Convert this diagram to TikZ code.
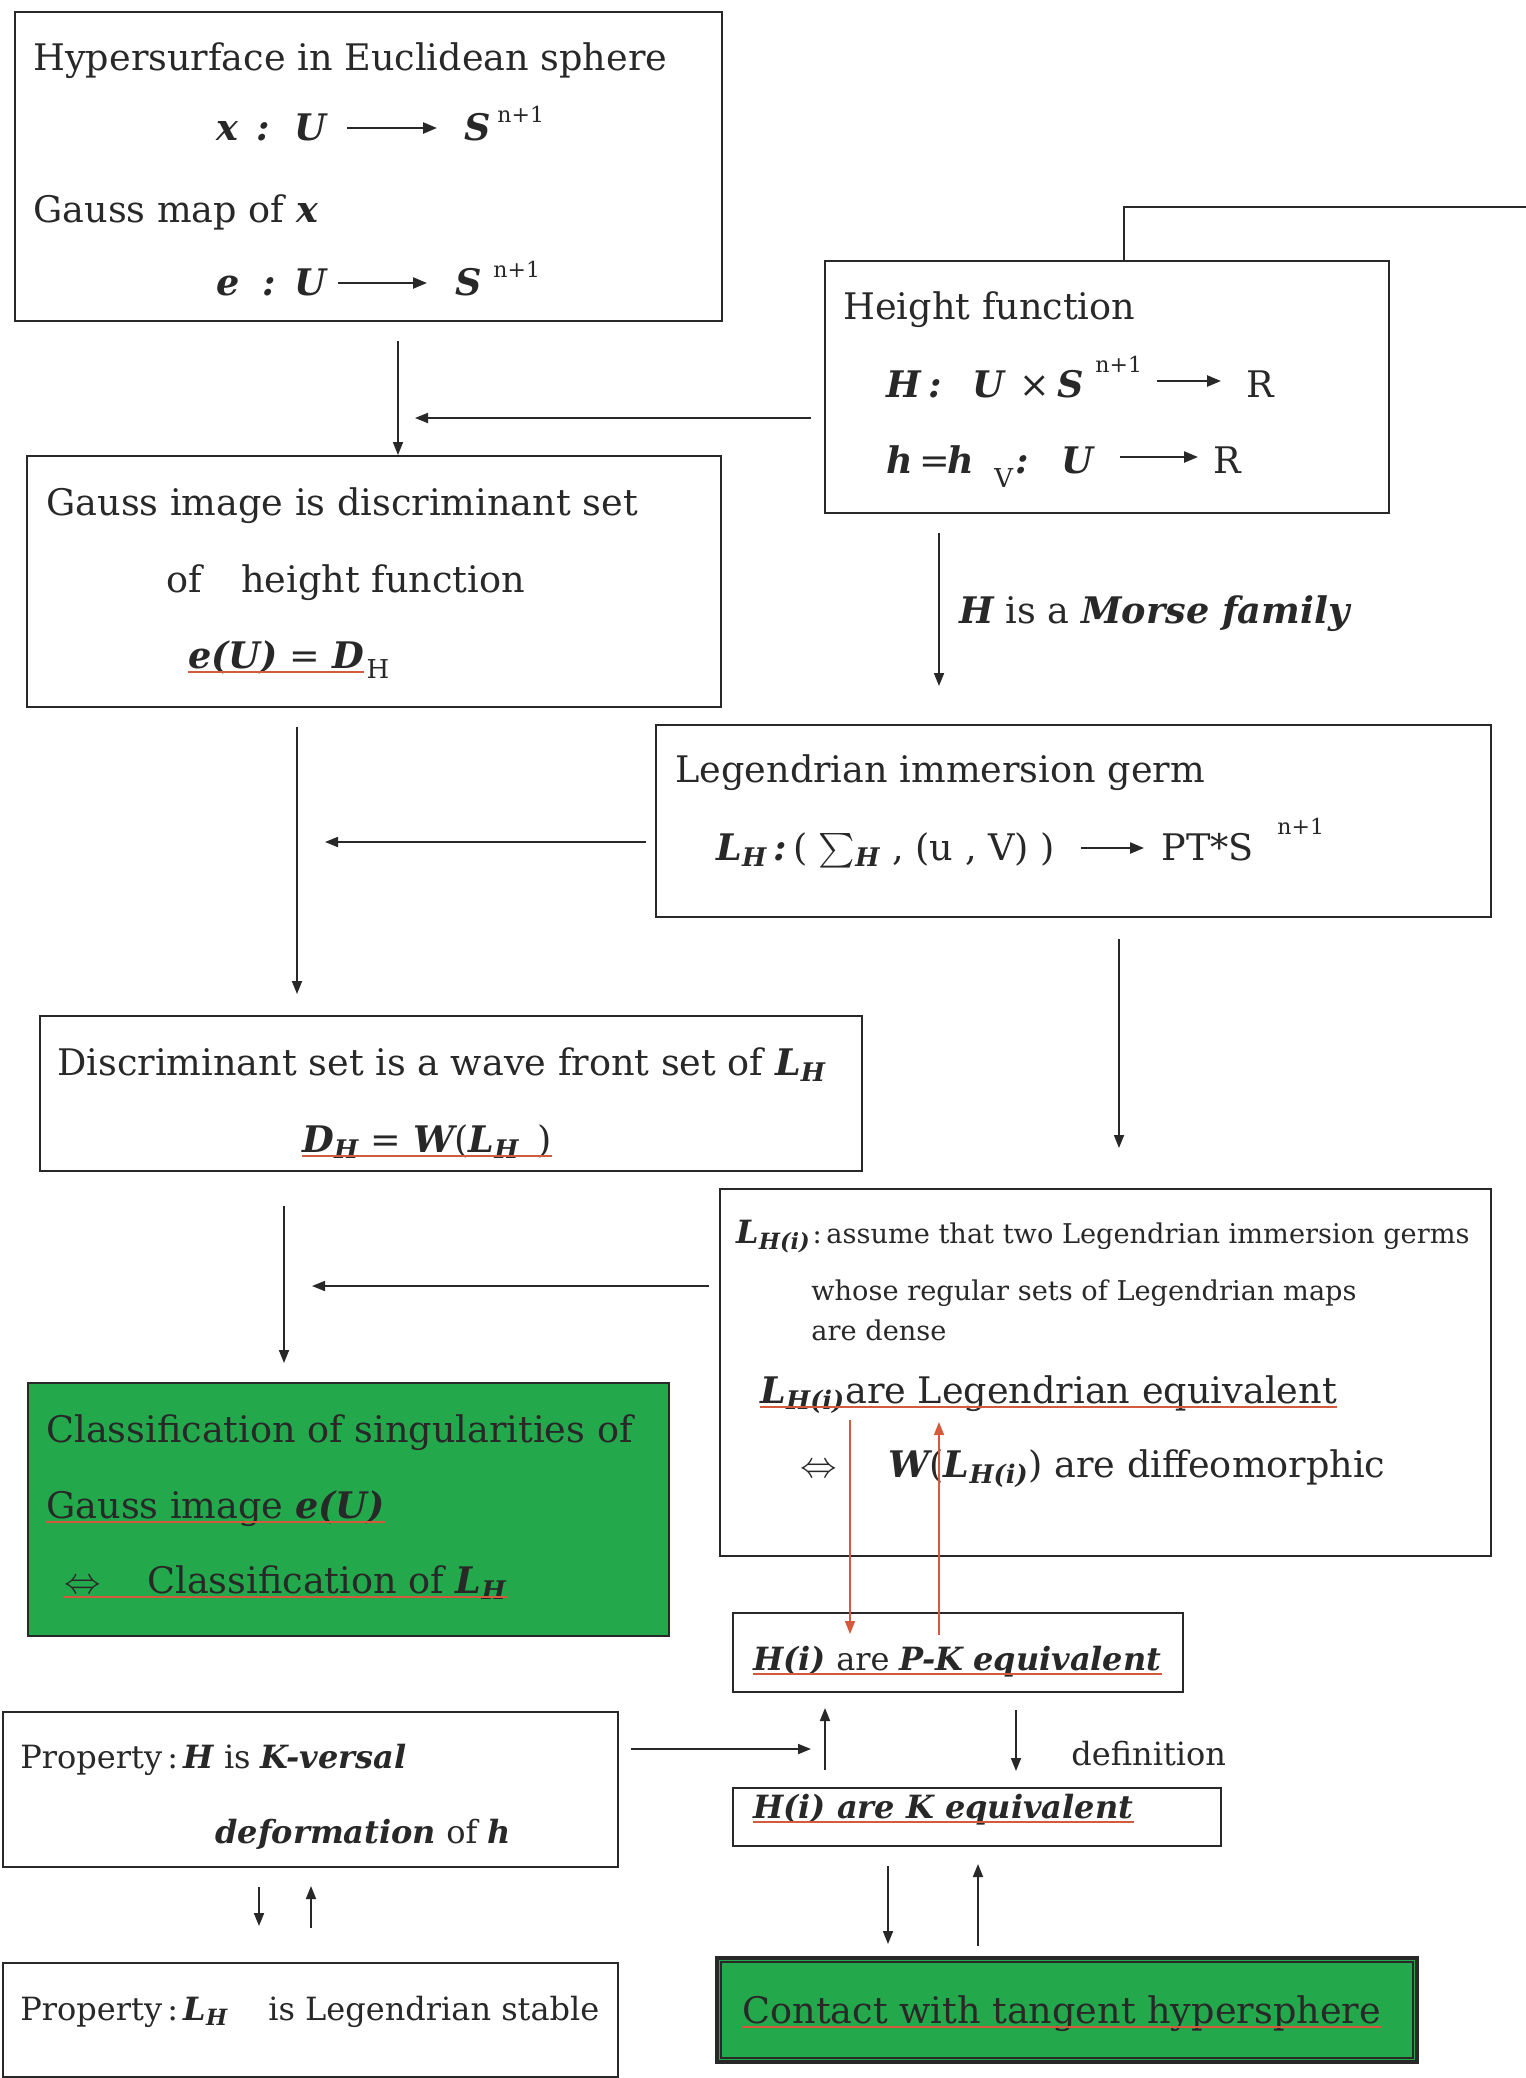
\RequirePackage{fix-cm}
\documentclass[tikz,border=0pt]{standalone}
\usepackage{amsmath}
\usepackage{graphicx}
\usepackage{fontspec}
\setmainfont{DejaVu Serif}
\usetikzlibrary{arrows.meta,fit}
\definecolor{ink}{RGB}{40,40,40}
\definecolor{boxgreen}{RGB}{36,168,76}
\definecolor{redline}{RGB}{212,90,62}
\newcommand{\bi}[1]{{\bfseries\itshape #1}}
\newcommand{\supfont}{\fontsize{11}{13}\selectfont}
\begin{document}
\begin{tikzpicture}[x=0.5pt,y=-0.5pt,
  box/.style={draw=ink, line width=1.3pt, inner sep=0pt},
  gbox/.style={box, fill=boxgreen},
  txt/.style={anchor=base west, inner sep=0pt, text=ink, font=\fontsize{18.3}{22}\selectfont},
  midtxt/.style={txt, font=\fontsize{16}{19}\selectfont},
  subtxt/.style={txt, font=\fontsize{13}{15}\selectfont},
  smalltxt/.style={txt, font=\fontsize{13.6}{16}\selectfont},
  suptxt/.style={txt, font=\supfont},
  arr/.style={draw=ink, line width=0.9pt, -{Triangle[length=6.5pt,width=5pt]}},
  marr/.style={draw=ink, line width=1.2pt, -{Triangle[length=7pt,width=5.5pt]}},
  rarr/.style={draw=redline, line width=0.8pt, -{Triangle[length=6.5pt,width=5pt]}},
  uline/.style={draw=redline, line width=0.6pt},
]
\useasboundingbox[fill=white] (0,0) rectangle (1526,2078);

% ---------- boxes ----------
\path (15,12) coordinate (A1c) (722,321) coordinate (A2c);
\node[box, fit=(A1c)(A2c)] (A) {};
\path (825,261) coordinate (B1c) (1389,513) coordinate (B2c);
\node[box, fit=(B1c)(B2c)] (B) {};
\path (27,456) coordinate (C1c) (721,707) coordinate (C2c);
\node[box, fit=(C1c)(C2c)] (C) {};
\path (656,725) coordinate (D1c) (1491,917) coordinate (D2c);
\node[box, fit=(D1c)(D2c)] (D) {};
\path (40,1016) coordinate (E1c) (862,1171) coordinate (E2c);
\node[box, fit=(E1c)(E2c)] (E) {};
\path (720,1189) coordinate (F1c) (1491,1556) coordinate (F2c);
\node[box, fit=(F1c)(F2c)] (F) {};
\path (28,1383) coordinate (G1c) (669,1636) coordinate (G2c);
\node[gbox, fit=(G1c)(G2c)] (G) {};
\path (733,1613) coordinate (H1c) (1183,1692) coordinate (H2c);
\node[box, fit=(H1c)(H2c)] (H) {};
\path (733,1788) coordinate (I1c) (1221,1846) coordinate (I2c);
\node[box, fit=(I1c)(I2c)] (I) {};
\path (717,1958) coordinate (J1c) (1417,2062) coordinate (J2c);
\node[gbox, line width=1.6pt, fit=(J1c)(J2c)] (J) {};
\draw[ink, line width=1pt] ([shift={(6,6)}]J.north west) rectangle ([shift={(-6,-6)}]J.south east);
\path (3,1712) coordinate (K1c) (618,1867) coordinate (K2c);
\node[box, fit=(K1c)(K2c)] (K) {};
\path (3,1963) coordinate (L1c) (618,2077) coordinate (L2c);
\node[box, fit=(L1c)(L2c)] (L) {};

% ---------- box A ----------
\node[txt] (a1) at (33,70) {Hypersurface in Euclidean sphere};
\node[txt] (a2x) at (216,140) {\bi{x}};
\node[txt] (a2c) at (256,140) {\bi{:}};
\node[txt] (a2U) at (294,140) {\bi{U}};
\node[txt] (a2S) at (464,140) {\bi{S}};
\node[suptxt] (a2n) at (497,122) {n+1};
\coordinate (a2arr1) at (347,128); \coordinate (a2arr2) at (437,128);
\draw[marr] (a2arr1) -- (a2arr2);
\node[txt] (a3) at (33,222) {Gauss map of \bi{x}};
\node[txt] (a4e) at (216,295) {\bi{e}};
\node[txt] (a4c) at (262,295) {\bi{:}};
\node[txt] (a4U) at (294,295) {\bi{U}};
\node[txt] (a4S) at (455,295) {\bi{S}};
\node[suptxt] (a4n) at (493,277) {n+1};
\coordinate (a4arr1) at (338,283); \coordinate (a4arr2) at (427,283);
\draw[marr] (a4arr1) -- (a4arr2);

% ---------- box B ----------
\node[txt] (b1) at (843,319) {Height function};
\node[txt] (b2H) at (886,397) {\bi{H}};
\node[txt] (b2c) at (928,397) {\bi{:}};
\node[txt] (b2U) at (972,397) {\bi{U}};
\node[txt] (b2x) at (1019,397) {×};
\node[txt] (b2S) at (1057,397) {\bi{S}};
\node[suptxt] (b2n) at (1095,372) {n+1};
\node[txt] (b2R) at (1246,397) {R};
\coordinate (b2arr1) at (1157,381); \coordinate (b2arr2) at (1221,381);
\draw[marr] (b2arr1) -- (b2arr2);
\node[txt] (b3h) at (886,473) {\bi{h}};
\node[txt] (b3eq) at (919,473) {=};
\node[txt] (b3h2) at (947,473) {\bi{h}};
\node[subtxt] (b3V) at (994,487) {V};
\node[txt] (b3c) at (1015,473) {\bi{:}};
\node[txt] (b3U) at (1061,473) {\bi{U}};
\node[txt] (b3R) at (1213,473) {R};
\coordinate (b3arr1) at (1120,457); \coordinate (b3arr2) at (1198,457);
\draw[marr] (b3arr1) -- (b3arr2);

% ---------- box C ----------
\node[txt] (c1) at (46,515) {Gauss image is discriminant set};
\node[txt] (c2a) at (166,592) {of};
\node[txt] (c2b) at (241,592) {height function};
\node[txt] (c3) at (188,668) {\bi{e(U)} = \bi{D}};
\node[subtxt] (c3H) at ([xshift=1pt,yshift=-5pt]c3.base east) {H};
\draw[uline] ([yshift=-2pt]c3.base west) -- ([yshift=-2pt]c3.base east);

\node[txt] (morse) at (959,623) {\bi{H} is a \bi{Morse family}};

% ---------- box D ----------
\node[txt] (d1) at (675,782) {Legendrian immersion germ};
\node[txt] (d2a) at (716,860) {\bi{L}\textsubscript{\bi{H}}\,\bi{:}\,( $\sum$\textsubscript{\bi{H}} , (u , V) )};
\node[txt] (d2b) at (1161,860) {PT*S};
\node[suptxt] (d2n) at (1277,834) {n+1};
\coordinate (d2arr1) at (1081,848); \coordinate (d2arr2) at (1144,848);
\draw[marr] (d2arr1) -- (d2arr2);

% ---------- box E ----------
\node[txt] (e1) at (57,1075) {Discriminant set is a wave front set of \bi{L}\textsubscript{\bi{H}}};
\node[txt] (e2) at (302,1152) {\bi{D}\textsubscript{\bi{H}} = \bi{W}(\bi{L}\textsubscript{\bi{H}}\ \,)};
\draw[uline] ([yshift=-2pt]e2.base west) -- ([yshift=-2pt]e2.base east);

% ---------- box F ----------
\node[midtxt] (f1a) at (736,1243) {\bi{L}\textsubscript{\bi{H(i)}}};
\node[smalltxt] (f1c) at ([xshift=0.5pt]f1a.base east) {:};
\node[smalltxt] (f1b) at (826,1243) {assume that two Legendrian immersion germs};
\node[smalltxt] (f2) at (811,1300) {whose regular sets of Legendrian maps};
\node[smalltxt] (f3) at (811,1340) {are dense};
\node[txt] (f4) at (760,1403) {\bi{L}\textsubscript{\bi{H(i)}}are Legendrian equivalent};
\draw[uline] ([yshift=-2pt]f4.base west) -- ([yshift=-2pt]f4.base east);
\node[txt] (f5a) at (800,1477) {$\Leftrightarrow$};
\node[txt] (f5b) at (888,1477) {\bi{W}(\bi{L}\textsubscript{\bi{H(i)}}) are diffeomorphic};

% ---------- box G ----------
\node[txt] (g1) at (46,1442) {Classification of singularities of};
\node[txt] (g2) at (46,1518) {Gauss image \bi{e(U)}};
\draw[uline] ([yshift=-2pt]g2.base west) -- ([yshift=-2pt]g2.base east);
\node[txt] (g3a) at (64,1593) {$\Leftrightarrow$};
\node[txt] (g3b) at (147,1593) {Classification of \bi{L}\textsubscript{\bi{H}}};
\draw[uline] ([yshift=-2pt]g3a.base west) -- ([yshift=-2pt]g3b.base east);

% ---------- boxes H, I, J ----------
\node[midtxt] (h1) at (753,1670) {\bi{H(i)} are \bi{P-K}\ \bi{equivalent}};
\draw[uline] ([yshift=-2pt]h1.base west) -- ([yshift=-2pt]h1.base east);
\node[midtxt] (def) at (1071,1765) {definition};
\node[midtxt] (i1) at (753,1818) {\bi{H(i) are K equivalent}};
\draw[uline] ([yshift=-2pt]i1.base west) -- ([yshift=-2pt]i1.base east);
\node[txt] (j1) at (742,2023) {Contact with tangent hypersphere};
\draw[uline] ([yshift=-2pt]j1.base west) -- ([yshift=-2pt]j1.base east);

% ---------- boxes K, L ----------
\node[midtxt] (k1) at (20,1768) {Property\,:\,\bi{H} is \bi{K-versal}};
\node[midtxt] (k2) at (215,1843) {\bi{deformation} of \bi{h}};
\node[midtxt] (l1a) at (20,2020) {Property\,:\,\bi{L}\textsubscript{\bi{H}}};
\node[midtxt] (l1b) at (268,2020) {is Legendrian stable};

% ---------- connectors ----------
\coordinate (topx) at (1124,207);
\coordinate (edge) at (1526,207);
\draw[ink, line width=1.3pt] (B.north -| topx) -- (topx) -- (edge);

\coordinate (aS) at (398,341);   \coordinate (cN) at (398,455);
\draw[arr] (aS) -- (cN);
\coordinate (bW) at (811,418);   \coordinate (bWend) at (415,418);
\draw[arr] (bW) -- (bWend);
\coordinate (bS) at (939,533);   \coordinate (bSend) at (939,686);
\draw[arr] (bS) -- (bSend);
\coordinate (dW) at (646,842);   \coordinate (dWend) at (325,842);
\draw[arr] (dW) -- (dWend);
\coordinate (cS) at (297,727);   \coordinate (cSend) at (297,994);
\draw[arr] (cS) -- (cSend);
\coordinate (dS) at (1119,939);  \coordinate (dSend) at (1119,1148);
\draw[arr] (dS) -- (dSend);
\coordinate (eS) at (284,1206);  \coordinate (eSend) at (284,1363);
\draw[arr] (eS) -- (eSend);
\coordinate (fW) at (709,1286);  \coordinate (fWend) at (312,1286);
\draw[arr] (fW) -- (fWend);

\coordinate (r1a) at (850,1420); \coordinate (r1b) at (850,1634);
\draw[rarr] (r1a) -- (r1b);
\coordinate (r2a) at (939,1635); \coordinate (r2b) at (939,1422);
\draw[rarr] (r2a) -- (r2b);

\coordinate (kE) at (631,1749);  \coordinate (kEend) at (811,1749);
\draw[arr] (kE) -- (kEend);
\coordinate (u1a) at (825,1770); \coordinate (u1b) at (825,1708);
\draw[arr] (u1a) -- (u1b);
\coordinate (d1a) at (1016,1710); \coordinate (d1b) at (1016,1771);
\draw[arr] (d1a) -- (d1b);

\coordinate (u2a) at (888,1866); \coordinate (u2b) at (888,1944);
\draw[arr] (u2a) -- (u2b);
\coordinate (u3a) at (978,1946); \coordinate (u3b) at (978,1864);
\draw[arr] (u3a) -- (u3b);

\coordinate (k1a) at (259,1887); \coordinate (k1b) at (259,1926);
\draw[arr] (k1a) -- (k1b);
\coordinate (k2a) at (311,1928); \coordinate (k2b) at (311,1886);
\draw[arr] (k2a) -- (k2b);
\end{tikzpicture}
\end{document}
